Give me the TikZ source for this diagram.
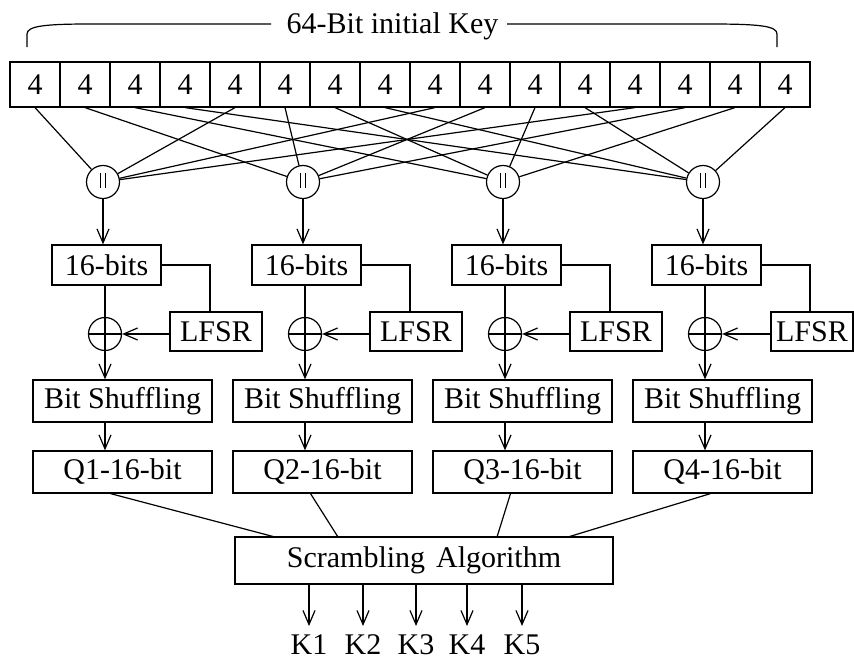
\documentclass[tikz,border=0pt]{standalone}
\usepackage{fontspec}
\setmainfont{Liberation Serif}
\usetikzlibrary{arrows.meta,calc}
\begin{document}
\begin{tikzpicture}[x=1pt,y=-1pt,line width=1.2pt,
  every node/.style={font=\fontsize{30}{34}\selectfont,inner sep=0pt},
  cellbox/.style={draw,minimum width=50pt,minimum height=45pt},
  box/.style={draw,minimum width=#1},
  catnode/.style={draw,circle,minimum size=33pt,
    path picture={
      \draw ([xshift=-2.2pt,yshift=9pt]path picture bounding box.center) -- ++(0pt,-15pt);
      \draw ([xshift=2.2pt,yshift=9pt]path picture bounding box.center) -- ++(0pt,-15pt);}},
  xornode/.style={draw,circle,minimum size=33pt,
    path picture={
      \draw (path picture bounding box.north) -- (path picture bounding box.south);
      \draw (path picture bounding box.west) -- (path picture bounding box.east);}},
  arr/.style={-{Straight Barb[length=14pt,width=12pt]}}]
\useasboundingbox (0,0) rectangle (854,659);

% title and brace
\node[anchor=base] (title) at (392.5,33) {64-Bit initial Key};
\coordinate (bl) at (27,47);
\coordinate (br) at (777,47);
\coordinate (tl) at (271,24);
\coordinate (tr) at (507,24);
\draw (bl) -- (27,34) .. controls (27,26) and (45,24) .. (90,24) -- (tl);
\draw (tr) -- (710,24) .. controls (760,24) and (777,26) .. (777,34) -- (br);

% key cells
\foreach \i in {0,...,15}
  \node[cellbox] (c\i) at ({35+50*\i},84.5) {4};

% columns
\foreach \j in {0,...,3} {
  \pgfmathtruncatemacro\q{\j+1}
  \node[catnode] (p\j) at ({103+200*\j},182) {};
  \node[box=109pt,minimum height=40pt] (b\j) at ({106.5+200*\j},265) {16-bits};
  \node[xornode] (x\j) at ({105+200*\j},334) {};
  \node[box=179pt,minimum height=42pt] (s\j) at ({122.5+200*\j},401) {Bit Shuffling};
  \node[box=179pt,minimum height=42pt] (q\j) at ({122.5+200*\j},472) {Q\q-16-bit};
  \coordinate (t\j) at ({210+200*\j},312);
}
\foreach \j in {0,1,2}
  \node[box=92pt,minimum height=39pt] (l\j) at ({216+200*\j},331.5) {LFSR};
\node[box=82pt,minimum height=39pt] (l3) at (812,331.5) {LFSR};

% cells to concatenation nodes
\foreach \i in {0,...,15} {
  \pgfmathtruncatemacro\k{mod(\i,4)}
  \draw (c\i.south) -- (p\k);
}

\foreach \j in {0,...,3} {
  \draw[arr] (p\j.south) -- (p\j.south |- b\j.north);
  \draw (b\j.east) -| (t\j |- l\j.north);
  \draw (x\j.south |- b\j.south) -- (x\j.north);
  \draw[arr] (l\j.west |- x\j.east) -- (x\j.east);
  \draw[arr] (x\j.south) -- (x\j.south |- s\j.north);
  \draw[arr] (x\j.south |- s\j.south) -- (x\j.south |- q\j.north);
}

% scrambling
\node[box=378pt,minimum height=47pt] (scr) at (424,560.5) {Scrambling\hspace{11pt}Algorithm};
\coordinate (e0) at (275,537);
\coordinate (e1) at (338,537);
\coordinate (e2) at (497,537);
\coordinate (e3) at (568,537);
\foreach \j in {0,...,3}
  \draw ([xshift=-12pt]q\j.south) -- (e\j);

\foreach \x [count=\n] in {309,363,416,467,522} {
  \node[anchor=base] (k\n) at (\x,654) {K\n};
  \coordinate (a\n) at (\x,626);
  \draw[arr] (scr.south -| a\n) -- (a\n);
}
\end{tikzpicture}
\end{document}
